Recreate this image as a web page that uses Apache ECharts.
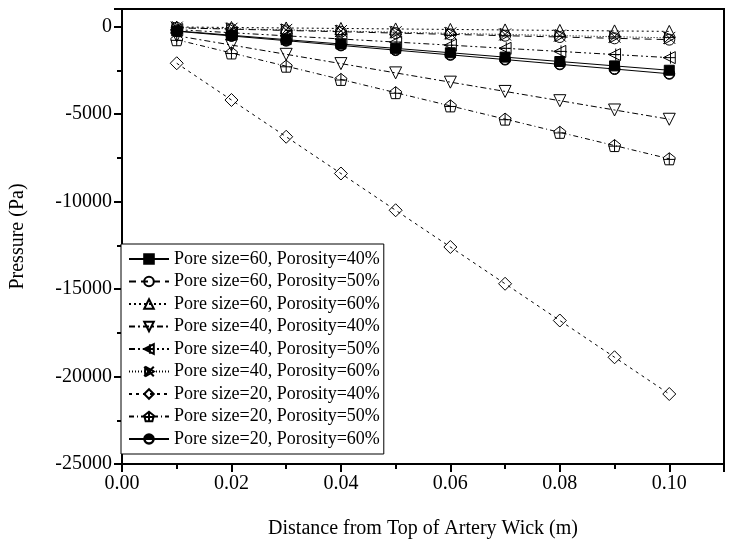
<!DOCTYPE html>
<html>
<head>
<meta charset="utf-8">
<script src="https://cdn.jsdelivr.net/npm/echarts@6/dist/echarts.min.js"></script>
<style>html,body{margin:0;padding:0;background:#fff}#c{width:731px;height:546px}</style>
</head>
<body>
<div id="c"></div>
<script>
// x positions (m)
var distances = [0.01,0.02,0.03,0.04,0.05,0.06,0.07,0.08,0.09,0.10];
// pressure values (Pa)
var p60_40 = [-250,-500,-750,-1000,-1250,-1500,-1750,-2000,-2250,-2500];
var p60_50 = [-75,-150,-225,-300,-375,-450,-525,-600,-675,-750];
var p60_60 = [-28,-56,-84,-112,-140,-168,-196,-224,-252,-280];
var p40_40 = [-530,-1060,-1590,-2120,-2650,-3180,-3710,-4240,-4770,-5300];
var p40_50 = [-178,-356,-534,-712,-890,-1068,-1246,-1424,-1602,-1780];
var p40_60 = [-65,-130,-195,-260,-325,-390,-455,-520,-585,-650];
var p20_40 = [-2100,-4200,-6300,-8400,-10500,-12600,-14700,-16800,-18900,-21000];
var p20_50 = [-756,-1512,-2268,-3024,-3780,-4536,-5292,-6048,-6804,-7560];
var p20_60 = [-270,-540,-810,-1080,-1350,-1620,-1890,-2160,-2430,-2700];
var seriesNames = ['Pore size=60, Porosity=40%','Pore size=60, Porosity=50%','Pore size=60, Porosity=60%',
  'Pore size=40, Porosity=40%','Pore size=40, Porosity=50%','Pore size=40, Porosity=60%',
  'Pore size=20, Porosity=40%','Pore size=20, Porosity=50%','Pore size=20, Porosity=60%'];
var seriesValues = [p60_40,p60_50,p60_60,p40_40,p40_50,p40_60,p20_40,p20_50,p20_60];
var xTicks = [0,0.02,0.04,0.06,0.08,0.10];

var halfCircle = 'path://M0,5 A5,5 0 0 1 10,5 Z M0,5 A5,5 0 0 0 10,5 L9.4,5 A4.4,4.4 0 0 1 0.6,5 Z';

var styles = [
  {symbol:'rect', size:10, fill:'#000', dash:'solid'},
  {symbol:'circle', size:11, fill:'transparent', dash:[7,5]},
  {symbol:'triangle', size:12, fill:'transparent', dash:[2,3]},
  {symbol:'triangle', rotate:180, size:12, fill:'transparent', dash:[6,3,2,3]},
  {symbol:'path://M10,0 L0,5 L10,10 Z M6,0 L6,10 M0,5 L10,5', size:12, fill:'transparent', dash:[6,3,2,3,2,3]},
  {symbol:'path://M0,0 L10,10 M10,0 L0,10 M1,0 L1,10 M1,0 L10,5 L1,10', size:12, fill:'transparent', dash:[1,2]},
  {symbol:'diamond', size:13, fill:'transparent', dash:[3,4]},
  {symbol:'path://M5,0 L10,4 L8.5,10 L1.5,10 L0,4 Z M5,0 L5,10 M0,5.5 L10,5.5', size:12, fill:'transparent', dash:[5,3,1,3]},
  {symbol:halfCircle, size:11, fill:'#000', dash:'solid'}
];

var series = seriesNames.map(function(name, i){
  var st = styles[i];
  return {
    name: name,
    type: 'line',
    data: distances.map(function(x, j){ return [x, seriesValues[i][j]]; }),
    symbol: st.symbol,
    symbolSize: st.size,
    symbolRotate: st.rotate || 0,
    symbolKeepAspect: true,
    showAllSymbol: true,
    lineStyle: {color:'#000', width:1, type: st.dash},
    itemStyle: {color: st.fill, borderColor:'#000', borderWidth:1},
    emphasis: {disabled:true},
    animation: false
  };
});

var chart = echarts.init(document.getElementById('c'));
var font = 'Liberation Serif';
chart.setOption({
  backgroundColor: '#fff',
  animation: false,
  grid: {left:112, right:7, top:9, bottom:82, show:true, borderColor:'#000', borderWidth:2, backgroundColor:'transparent'},
  legend: {
    orient:'vertical', left:121, top:244,
    padding:[6,4,6,7], itemGap:4.5, itemWidth:40, itemHeight:12,
    backgroundColor:'#fff', borderColor:'#000', borderWidth:1,
    textStyle:{fontFamily:font, fontSize:18, lineHeight:18, color:'#000'},
    data: seriesNames
  },
  xAxis: {
    type:'value', min:0, max:0.11, interval:0.02,
    name:'Distance from Top of Artery Wick (m)', nameLocation:'middle', nameGap:55,
    nameTextStyle:{fontFamily:font, fontSize:20, color:'#000'},
    axisLine:{show:true, onZero:false, lineStyle:{color:'#000', width:2}},
    axisTick:{show:true, length:8, lineStyle:{color:'#000', width:2}},
    minorTick:{show:true, splitNumber:2, length:5, lineStyle:{color:'#000', width:2}},
    splitLine:{show:false},
    axisLabel:{fontFamily:font, fontSize:20, color:'#000', margin:10,
      formatter:function(v){ for (var k=0;k<xTicks.length;k++){ if (Math.abs(v-xTicks[k])<1e-9) return v.toFixed(2);} return ''; }}
  },
  yAxis: {
    type:'value', min:-25000, max:1000, interval:5000,
    name:'Pressure (Pa)', nameLocation:'middle', nameGap:94,
    nameTextStyle:{fontFamily:font, fontSize:20, color:'#000'},
    axisLine:{show:true, onZero:false, lineStyle:{color:'#000', width:2}},
    axisTick:{show:true, length:8, lineStyle:{color:'#000', width:2}},
    minorTick:{show:true, splitNumber:2, length:5, lineStyle:{color:'#000', width:2}},
    splitLine:{show:false},
    axisLabel:{fontFamily:font, fontSize:20, color:'#000', margin:10,
      formatter:function(v){ return v > 0 ? '' : String(v); }}
  },
  series: series
});
</script>
</body>
</html>
